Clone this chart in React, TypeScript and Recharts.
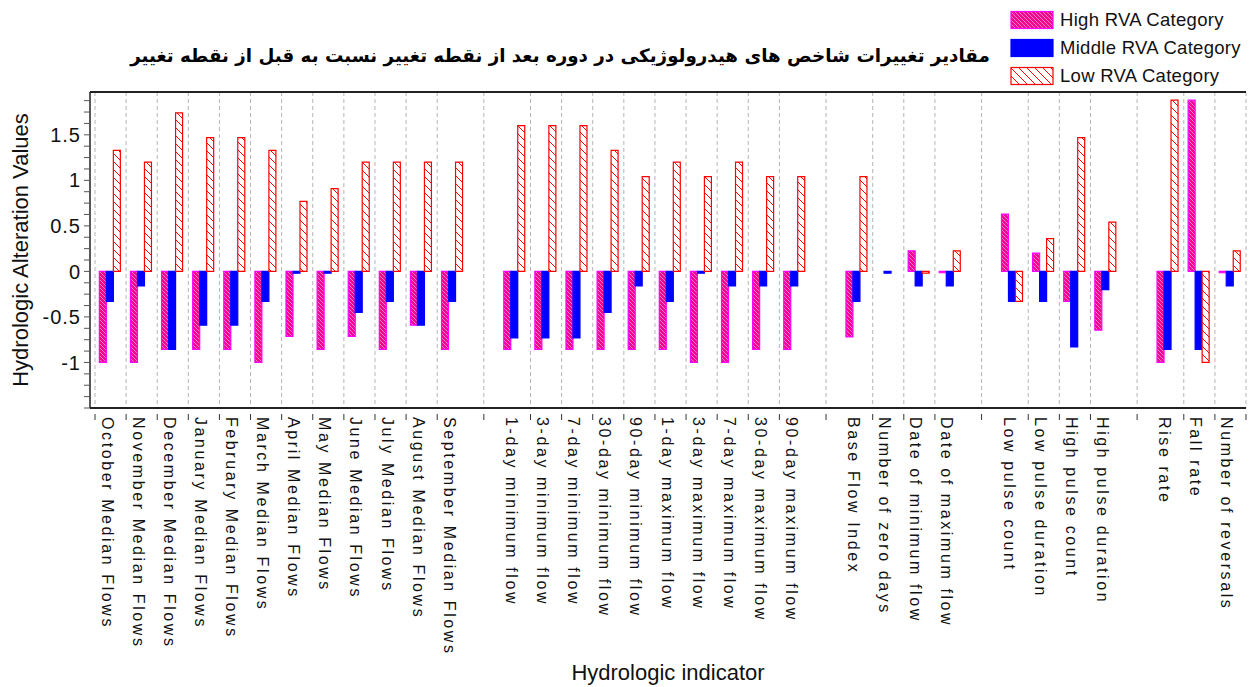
import React from 'react';
import { BarChart, Bar, XAxis, YAxis, CartesianGrid, Legend, ReferenceLine } from 'recharts';

// '' marks an empty spacer slot between indicator groups
const indicators = [
  'October Median Flows', 'November Median Flows', 'December Median Flows', 'January Median Flows',
  'February Median Flows', 'March Median Flows', 'April Median Flows', 'May Median Flows',
  'June Median Flows', 'July Median Flows', 'August Median Flows', 'September Median Flows',
  '',
  '1-day minimum flow', '3-day minimum flow', '7-day minimum flow', '30-day minimum flow', '90-day minimum flow',
  '1-day maximum flow', '3-day maximum flow', '7-day maximum flow', '30-day maximum flow', '90-day maximum flow',
  '',
  'Base Flow Index', 'Number of zero days', 'Date of minimum flow', 'Date of maximum flow',
  '',
  'Low pulse count', 'Low pulse duration', 'High pulse count', 'High pulse duration',
  '',
  'Rise rate', 'Fall rate', 'Number of reversals',
];

const highRva = [
  -1, -1, -0.857, -0.857, -0.857, -1, -0.714, -0.857, -0.714, -0.857, -0.59, -0.857,
  null,
  -0.857, -0.857, -0.857, -0.857, -0.857, -0.857, -1, -1, -0.857, -0.857,
  null,
  -0.72, 0, 0.225, -0.015,
  null,
  0.63, 0.2, -0.33, -0.645,
  null,
  -1, 1.88, -0.015,
];

const middleRva = [
  -0.33, -0.16, -0.857, -0.59, -0.59, -0.33, -0.02, -0.02, -0.45, -0.33, -0.59, -0.33,
  null,
  -0.73, -0.73, -0.73, -0.45, -0.16, -0.33, -0.02, -0.16, -0.16, -0.16,
  null,
  -0.33, -0.02, -0.16, -0.16,
  null,
  -0.33, -0.33, -0.83, -0.2,
  null,
  -0.857, -0.857, -0.16,
];

const lowRva = [
  1.33, 1.2, 1.74, 1.47, 1.47, 1.33, 0.77, 0.91, 1.2, 1.2, 1.2, 1.2,
  null,
  1.6, 1.6, 1.6, 1.33, 1.04, 1.2, 1.04, 1.2, 1.04, 1.04,
  null,
  1.04, 0, -0.02, 0.225,
  null,
  -0.33, 0.36, 1.47, 0.54,
  null,
  1.88, -1, 0.225,
];

const yTicks = [
  -1.5, -1.375, -1.25, -1.125, -1, -0.875, -0.75, -0.625, -0.5, -0.375, -0.25, -0.125,
  0, 0.125, 0.25, 0.375, 0.5, 0.625, 0.75, 0.875, 1, 1.125, 1.25, 1.375, 1.5, 1.625, 1.75, 1.875,
];
const yLabels = [-1, -0.5, 0, 0.5, 1, 1.5];
const Y_DOMAIN: [number, number] = [-1.5, 1.97];

const series = [
  { key: 'high', name: 'High RVA Category', fill: 'url(#hatchHigh)', stroke: '#ff00ff' },
  { key: 'middle', name: 'Middle RVA Category', fill: '#0000ff', stroke: '#0000ff' },
  { key: 'low', name: 'Low RVA Category', fill: 'url(#hatchLow)', stroke: '#ff0000' },
];

const TITLE = 'مقادیر تغییرات شاخص های هیدرولوژیکی در دوره بعد از نقطه تغییر نسبت به قبل از نقطه تغییر';

const data = indicators.map((name, i) => ({
  slot: i,
  name,
  high: highRva[i],
  middle: middleRva[i],
  low: lowRva[i],
}));

const PAD_LEFT = 5;
const N = indicators.length;

// grid lines sit on slot boundaries; a spacer slot gets one line in its middle
const isGap = (i: number) => indicators[i] === '';
const gridTicks: number[] = [];
for (let i = 0; i <= N; i++) {
  if (i < N && isGap(i)) {
    gridTicks.push(i + 0.5);
    continue;
  }
  if (i > 0 && isGap(i - 1)) continue;
  gridTicks.push(i);
}

const FONT = '"Liberation Sans", Arial, sans-serif';

const IndicatorTick = (props: any) => {
  const { x, y, payload, width } = props;
  const i = payload.value as number;
  const slotW = payload.offset ? payload.offset * 2 : (width - PAD_LEFT) / N;
  const marks = gridTicks.filter((t) => t >= i && (t < i + 1 || (i === N - 1 && t <= N)));
  const label = indicators[i];
  const axisY = y - 2;
  return (
    <g>
      {marks.map((t) => {
        const mx = x + (t - i - 0.5) * slotW;
        return <line key={t} x1={mx} x2={mx} y1={axisY} y2={axisY + 6} stroke="#333" strokeWidth={1} />;
      })}
      {label && (
        <text
          x={x}
          y={y}
          transform={`rotate(90, ${x}, ${y})`}
          dx={1}
          dy={9}
          textAnchor="start"
          fontFamily={FONT}
          fontSize={16}
          letterSpacing={2.6}
          fill="#111"
        >
          {label}
        </text>
      )}
    </g>
  );
};

const renderLegend = () => (
  <div style={{ display: 'flex', flexDirection: 'column' }}>
    {series.map((s) => (
      <div key={s.key} style={{ display: 'flex', alignItems: 'center', height: 28 }}>
        <svg width={46} height={20} style={{ display: 'block' }}>
          <rect x={2} y={1.5} width={42} height={17} fill={s.fill} stroke={s.stroke} strokeWidth={1.2} />
        </svg>
        <span style={{ fontFamily: FONT, fontSize: 18.5, letterSpacing: 0.3, color: '#111', marginLeft: 5 }}>
          {s.name}
        </span>
      </div>
    ))}
  </div>
);

const gridLines = ({ offset }: any) => {
  const slotW = (offset.width - PAD_LEFT) / N;
  return gridTicks.map((t) => offset.left + PAD_LEFT + t * slotW);
};

const App: React.FC = () => {
  return (
    <div style={{ position: 'absolute', left: 0, top: 0, width: 1251, height: 687, background: '#fff' }}>
      <div
        style={{
          position: 'absolute',
          left: 120,
          top: 45,
          width: 880,
          textAlign: 'center',
          direction: 'rtl',
          fontFamily: '"DejaVu Sans", sans-serif',
          fontWeight: 'bold',
          fontSize: 18.3,
          color: '#000',
          zIndex: 2,
        }}
      >
        {TITLE}
      </div>
      <BarChart
        width={1251}
        height={687}
        data={data}
        margin={{ top: 92, right: 5, bottom: 0, left: 0 }}
        barCategoryGap="14%"
        barGap={0}
      >
        <defs>
          <pattern id="hatchHigh" width={4} height={4} patternUnits="userSpaceOnUse">
            <rect width={4} height={4} fill="#f0088e" />
            <path d="M-1,-1 L5,5 M-1,3 L1,5 M3,-1 L5,1" stroke="#ffffff" strokeWidth={0.55} strokeOpacity={0.85} />
          </pattern>
          <pattern id="hatchLow" width={8} height={8} patternUnits="userSpaceOnUse">
            <rect width={8} height={8} fill="#ffffff" />
            <path d="M-1,-1 L9,9 M-1,7 L1,9 M7,-1 L9,1" stroke="#ff0000" strokeWidth={1} />
          </pattern>
        </defs>
        <XAxis
          xAxisId="cat"
          dataKey="slot"
          type="category"
          interval={0}
          height={279}
          padding={{ left: PAD_LEFT, right: 0 }}
          tickLine={false}
          axisLine={{ stroke: '#222', strokeWidth: 2 }}
          tick={<IndicatorTick />}
          label={{
            value: 'Hydrologic indicator',
            position: 'insideBottom',
            offset: 7,
            style: { fontFamily: FONT, fontSize: 22, fill: '#111' },
          }}
        />
        <YAxis
          type="number"
          domain={Y_DOMAIN}
          ticks={yTicks}
          interval={0}
          width={90}
          allowDataOverflow
          tickSize={6}
          tickMargin={3}
          tickLine={{ stroke: '#555' }}
          axisLine={{ stroke: '#222', strokeWidth: 1.5 }}
          tickFormatter={(v: number) => (yLabels.includes(v) ? String(v) : '')}
          tick={{ fontFamily: FONT, fontSize: 20, fill: '#111', letterSpacing: 1 }}
          label={{
            value: 'Hydrologic Alteration Values',
            angle: -90,
            position: 'insideLeft',
            offset: 20,
            style: { textAnchor: 'middle', fontFamily: FONT, fontSize: 22, fill: '#111' },
          }}
        />
        <CartesianGrid
          xAxisId="cat"
          horizontal={false}
          stroke="#b5b5b5"
          strokeDasharray="4 3"
          verticalCoordinatesGenerator={gridLines}
        />
        <ReferenceLine xAxisId="cat" y={Y_DOMAIN[1]} stroke="#222" strokeWidth={2} />
        {series.map((s) => (
          <Bar
            key={s.key}
            xAxisId="cat"
            dataKey={s.key}
            name={s.name}
            fill={s.fill}
            stroke={s.stroke}
            strokeWidth={1.2}
            isAnimationActive={false}
          />
        ))}
        <Legend
          layout="vertical"
          align="center"
          verticalAlign="middle"
          content={renderLegend}
          wrapperStyle={{ top: 6, left: 1009, width: 240 }}
        />
      </BarChart>
    </div>
  );
};

export default App;
